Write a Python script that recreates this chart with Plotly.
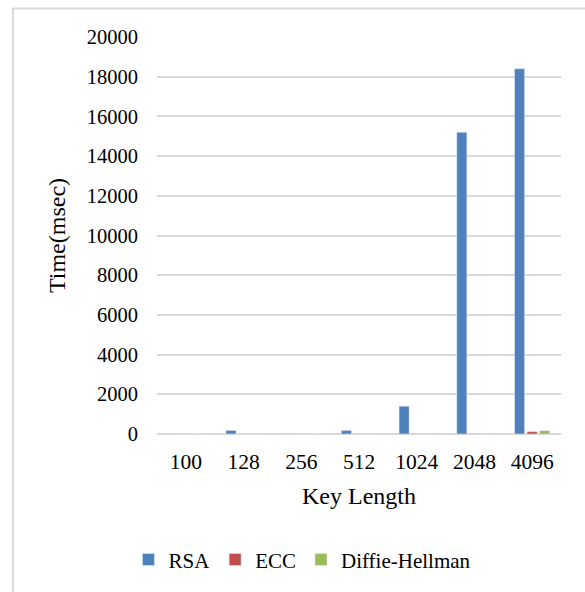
import plotly.graph_objects as go

categories = ["100", "128", "256", "512", "1024", "2048", "4096"]
rsa = [10, 180, 15, 180, 1400, 15200, 18400]
ecc = [2, 3, 4, 6, 10, 20, 120]
dh = [2, 3, 4, 6, 12, 25, 170]
y_ticks = [0, 2000, 4000, 6000, 8000, 10000, 12000, 14000, 16000, 18000, 20000]

FONT = "Liberation Serif"

fig = go.Figure()
fig.add_trace(go.Bar(name="RSA", x=categories, y=rsa, marker_color="#4f81bd"))
fig.add_trace(go.Bar(name="ECC", x=categories, y=ecc, marker_color="#c0504d"))
fig.add_trace(go.Bar(name="Diffie-Hellman", x=categories, y=dh, marker_color="#9bbb59"))

fig.update_layout(
    width=585, height=592,
    margin=dict(l=157, r=24, t=37, b=158, autoexpand=False),
    paper_bgcolor="white", plot_bgcolor="white",
    barmode="group", bargap=0.345, bargroupgap=0.2,
    font=dict(family=FONT, color="#000000", size=21),
    showlegend=True,
    legend=dict(orientation="h", x=0.36, xanchor="center", y=-0.317, yanchor="middle",
                font=dict(size=21, family=FONT, color="#000000"), itemwidth=30,
                traceorder="normal"),
    xaxis=dict(
        title=dict(text="Key Length", font=dict(size=24, family=FONT, color="#000000"), standoff=14),
        tickfont=dict(size=21.5, family=FONT, color="#000000"),
        showgrid=False, showline=False, zeroline=False, ticks="",
        ticklabelstandoff=12, automargin=False,
    ),
    yaxis=dict(
        title=dict(text="Time(msec)", font=dict(size=24, family=FONT, color="#000000"), standoff=14),
        range=[0, 20000], tickvals=y_ticks, ticktext=[str(v) for v in y_ticks],
        tickfont=dict(size=20.5, family=FONT, color="#000000"),
        showgrid=True, gridcolor="#d9d9d9", gridwidth=2,
        zeroline=True, zerolinecolor="#d9d9d9", zerolinewidth=2,
        showline=False, ticks="", ticklabelstandoff=18, automargin=False,
    ),
    shapes=[dict(type="rect", xref="paper", yref="paper",
                 x0=(13 - 157) / 404, x1=(620 - 157) / 404,
                 y0=(434 - 620) / 397, y1=(434 - 8.5) / 397,
                 line=dict(color="#d9d9d9", width=2), fillcolor="rgba(0,0,0,0)",
                 layer="below")],
)

fig.write_html("out.html", config={"displayModeBar": False},
               post_script="document.body.style.margin='0px';")
